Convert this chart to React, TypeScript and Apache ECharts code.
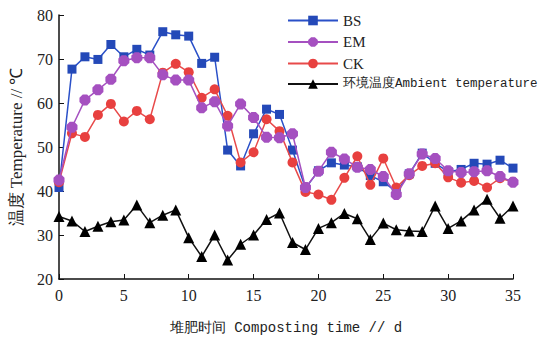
import React, { useEffect, useRef } from "react";
import * as echarts from "echarts";

const days = Array.from({ length: 36 }, (_, i) => i);
const bsValues = [40.8, 67.7, 70.5, 69.9, 73.3, 70.5, 72.2, 70.9, 76.2, 75.5, 75.2, 69.0, 70.4, 49.3, 45.7, 53.0, 58.6, 57.4, 49.3, 40.6, 44.6, 46.4, 45.9, 45.5, 43.5, 42.1, 39.8, 43.9, 48.6, 46.3, 44.4, 44.9, 46.3, 46.1, 47.0, 45.2];
const emValues = [42.5, 54.5, 60.7, 63.0, 65.4, 69.6, 70.3, 70.3, 66.4, 65.2, 65.2, 58.9, 60.3, 54.8, 59.8, 56.7, 52.2, 52.1, 53.0, 40.8, 44.5, 48.8, 47.3, 45.4, 44.9, 43.3, 39.2, 43.9, 48.4, 47.4, 44.6, 44.2, 44.4, 44.6, 43.3, 42.0];
const ckValues = [42.0, 53.1, 52.3, 57.3, 59.8, 55.8, 58.2, 56.3, 66.9, 68.9, 67.0, 61.2, 63.1, 57.1, 46.5, 48.8, 56.3, 53.6, 46.5, 39.8, 39.2, 38.0, 43.0, 47.9, 41.4, 47.4, 40.8, 43.6, 45.7, 46.3, 43.1, 41.9, 42.3, 40.8, 42.9, 42.1];
const ambientValues = [34.2, 33.2, 30.8, 32.0, 33.0, 33.4, 36.8, 32.8, 34.5, 35.7, 29.4, 25.1, 30.0, 24.3, 27.9, 30.0, 33.5, 35.0, 28.3, 26.7, 31.5, 32.8, 34.9, 33.7, 29.0, 32.7, 31.2, 30.9, 30.8, 36.6, 31.5, 33.2, 35.7, 38.1, 33.8, 36.6];
const seriesNames = ["BS", "EM", "CK", "环境温度Ambient temperature"];
const yTicks = { min: 20, max: 80, interval: 10 };
const xTicks = { min: 0, max: 35, interval: 5 };

const pair = (vals: number[]) => days.map((d, i) => [d, vals[i]]);

export default function App() {
  const ref = useRef<HTMLDivElement>(null);
  useEffect(() => {
    if (!ref.current) return;
    const chart = echarts.init(ref.current, null, { renderer: "svg" });
    const serif = "Liberation Serif";
    const mono = "Liberation Mono";
    chart.setOption({
      animation: false,
      backgroundColor: "#ffffff",
      grid: { left: 58, right: 34, top: 15, bottom: 71 },
      legend: {
        orient: "vertical",
        left: 282,
        top: 8,
        itemWidth: 50,
        itemHeight: 12,
        itemGap: 6.5,
        textStyle: { fontFamily: mono, fontSize: 12.5, color: "#222" },
        data: seriesNames.map((n, i) => ({
          name: n,
          textStyle: i < 3 ? { fontFamily: serif, fontSize: 15 } : undefined,
        })),
      },
      xAxis: {
        type: "value",
        min: xTicks.min,
        max: xTicks.max,
        interval: xTicks.interval,
        name: "堆肥时间 Composting time // d",
        nameLocation: "middle",
        nameGap: 42,
        nameTextStyle: { fontFamily: mono, fontSize: 14, color: "#222" },
        axisLine: { lineStyle: { color: "#111", width: 1.5 } },
        axisTick: { inside: true, length: 5, lineStyle: { color: "#111" } },
        axisLabel: { fontFamily: serif, fontSize: 16, color: "#222", margin: 8 },
        splitLine: { show: false },
      },
      yAxis: {
        type: "value",
        min: yTicks.min,
        max: yTicks.max,
        interval: yTicks.interval,
        name: "温度 Temperature // ℃",
        nameLocation: "middle",
        nameGap: 34,
        nameTextStyle: { fontFamily: serif, fontSize: 17, color: "#222" },
        axisLine: { show: true, lineStyle: { color: "#111", width: 1.5 } },
        axisTick: { show: true, inside: true, length: 5, lineStyle: { color: "#111" } },
        axisLabel: { fontFamily: serif, fontSize: 16, color: "#222", margin: 6 },
        splitLine: { show: false },
      },
      series: [
        {
          name: seriesNames[0],
          type: "line",
          data: pair(bsValues),
          symbol: "rect",
          symbolSize: 9,
          color: "#2449b8",
          lineStyle: { width: 1.5, color: "#2a50c8" },
          z: 3,
        },
        {
          name: seriesNames[1],
          type: "line",
          data: pair(emValues),
          symbol: "path://M3,0 L7,0 L10,3 L10,7 L7,10 L3,10 L0,7 L0,3Z",
          symbolSize: 11,
          color: "#a550c0",
          lineStyle: { width: 1.5, color: "#a550c0" },
          z: 5,
        },
        {
          name: seriesNames[2],
          type: "line",
          data: pair(ckValues),
          symbol: "circle",
          symbolSize: 10,
          color: "#e8403f",
          lineStyle: { width: 1.5, color: "#e84a4a" },
          z: 4,
        },
        {
          name: seriesNames[3],
          type: "line",
          data: pair(ambientValues),
          symbol: "triangle",
          symbolSize: 11,
          color: "#000000",
          lineStyle: { width: 1.5, color: "#111" },
          z: 2,
        },
      ],
    });
    return () => chart.dispose();
  }, []);
  return <div ref={ref} style={{ width: 547, height: 350, position: "absolute", left: 0, top: 0 }} />;
}
